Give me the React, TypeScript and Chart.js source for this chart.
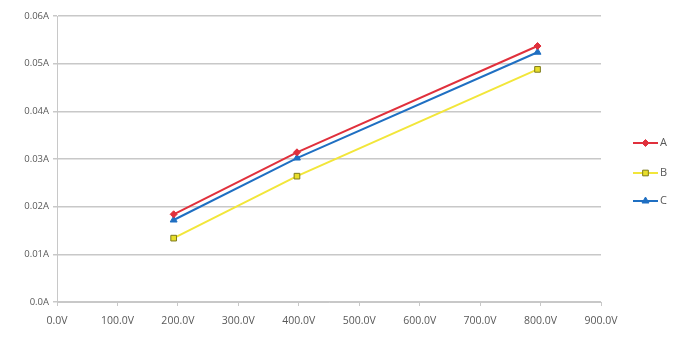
import React, { useEffect, useRef } from "react";
import { Chart, registerables } from "chart.js";

Chart.register(...registerables);

// Measured current at each applied voltage
const voltages = [193, 397, 795];
const seriesNames = ["A", "B", "C"];
const currentA = [0.0184, 0.0314, 0.0537];
const currentB = [0.0134, 0.0264, 0.0488];
const currentC = [0.0172, 0.0302, 0.0524];

const xTicks = [0, 100, 200, 300, 400, 500, 600, 700, 800, 900];
const yTicks = [0, 0.01, 0.02, 0.03, 0.04, 0.05, 0.06];

const FONT = "'Open Sans', 'Liberation Sans', sans-serif";
const TEXT = "#595959";
const GRID = "#c8c8c8";

const styles = [
  { color: "#e0303c", pointStyle: "rectRot", fill: "#e0303c", border: "#e0303c", radius: 3.5 },
  { color: "#f2e63a", pointStyle: "rect", fill: "#e8de2a", border: "#7d7a1c", radius: 4 },
  { color: "#1f6fc2", pointStyle: "triangle", fill: "#1f6fc2", border: "#1f6fc2", radius: 4 },
];

// Marker glyph for the legend rows, mirroring the dataset point styles
function marker(ctx: CanvasRenderingContext2D, style: string, r: number, x: number, y: number) {
  ctx.beginPath();
  if (style === "rectRot") {
    ctx.moveTo(x, y - r);
    ctx.lineTo(x + r, y);
    ctx.lineTo(x, y + r);
    ctx.lineTo(x - r, y);
  } else if (style === "rect") {
    const s = r / Math.SQRT2;
    ctx.rect(x - s, y - s, 2 * s, 2 * s);
  } else {
    ctx.moveTo(x, y - r);
    ctx.lineTo(x + r * 0.87, y + r * 0.5);
    ctx.lineTo(x - r * 0.87, y + r * 0.5);
  }
  ctx.closePath();
  ctx.fill();
  ctx.stroke();
}

const sideLegend = {
  id: "sideLegend",
  afterDraw(chart: any) {
    const ctx = chart.ctx as CanvasRenderingContext2D;
    const rows = [143, 173, 201];
    chart.data.datasets.forEach((ds: any, i: number) => {
      const y = rows[i];
      const x0 = 633;
      const x1 = 658;
      ctx.save();
      ctx.strokeStyle = ds.borderColor;
      ctx.lineWidth = 2;
      ctx.beginPath();
      ctx.moveTo(x0, y);
      ctx.lineTo(x1, y);
      ctx.stroke();
      ctx.fillStyle = ds.pointBackgroundColor;
      ctx.strokeStyle = ds.pointBorderColor;
      ctx.lineWidth = 1;
      marker(ctx, ds.pointStyle, ds.pointRadius, (x0 + x1) / 2, y);
      ctx.fillStyle = TEXT;
      ctx.font = `11px ${FONT}`;
      ctx.textBaseline = "middle";
      ctx.textAlign = "left";
      ctx.fillText(ds.label, x1 + 2, y);
      ctx.restore();
    });
  },
};

export default function App() {
  const ref = useRef<HTMLCanvasElement>(null);

  useEffect(() => {
    if (!ref.current) return;
    const values = [currentA, currentB, currentC];
    const chart = new Chart(ref.current, {
      type: "line",
      data: {
        datasets: values.map((vals, i) => ({
          label: seriesNames[i],
          data: voltages.map((v, j) => ({ x: v, y: vals[j] })),
          borderColor: styles[i].color,
          backgroundColor: styles[i].color,
          pointStyle: styles[i].pointStyle as any,
          pointBackgroundColor: styles[i].fill,
          pointBorderColor: styles[i].border,
          pointBorderWidth: 1,
          pointRadius: styles[i].radius,
          borderWidth: 2,
          tension: 0,
        })),
      },
      options: {
        animation: false,
        responsive: false,
        layout: { padding: { top: 16, right: 80, left: 0, bottom: 0 } },
        plugins: { legend: { display: false }, tooltip: { enabled: false } },
        scales: {
          x: {
            type: "linear",
            min: 0,
            max: 900,
            afterBuildTicks: (s: any) => {
              s.ticks = xTicks.map((v) => ({ value: v }));
            },
            afterFit: (s: any) => {
              s.height = 36;
            },
            ticks: {
              color: TEXT,
              font: { family: FONT, size: 10.5 },
              padding: 9,
              maxRotation: 0,
              callback: (v: any) => Number(v).toFixed(1) + "V",
            },
            grid: {
              drawOnChartArea: false,
              drawTicks: true,
              tickLength: 4,
              color: GRID,
            },
            border: { color: GRID, width: 1 },
          },
          y: {
            type: "linear",
            min: 0,
            max: 0.06,
            afterBuildTicks: (s: any) => {
              s.ticks = yTicks.map((v) => ({ value: v }));
            },
            afterFit: (s: any) => {
              s.width = 57;
            },
            ticks: {
              color: TEXT,
              font: { family: FONT, size: 9.5 },
              padding: 4,
              callback: (v: any) => (Number(v) === 0 ? "0.0A" : Number(v).toFixed(2) + "A"),
            },
            grid: {
              color: GRID,
              lineWidth: 1.5,
              drawTicks: true,
              tickLength: 4,
            },
            border: { color: GRID, width: 1 },
          },
        },
      },
      plugins: [sideLegend],
    });
    return () => chart.destroy();
  }, []);

  return (
    <div style={{ position: "fixed", left: 0, top: 0, width: 681, height: 338, background: "#fff" }}>
      <canvas ref={ref} width={681} height={338} />
    </div>
  );
}
